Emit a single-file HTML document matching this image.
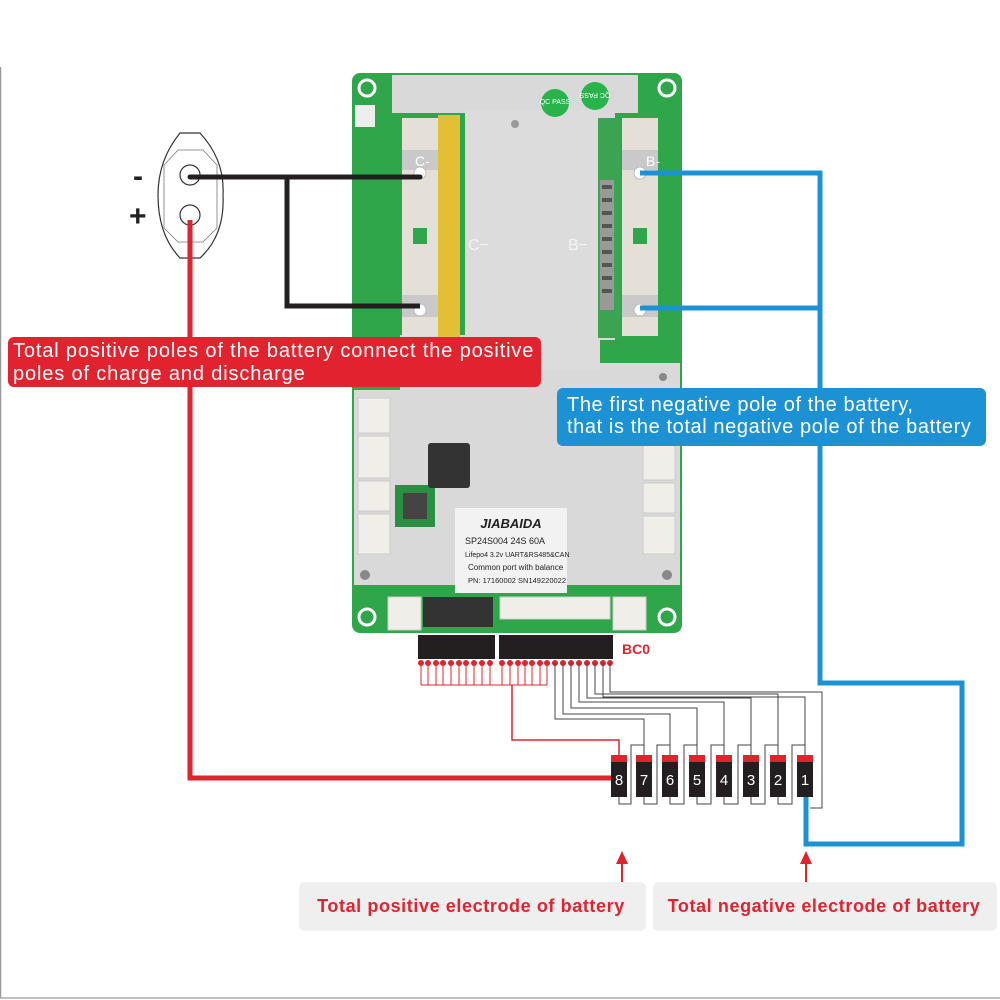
<!DOCTYPE html>
<html><head><meta charset="utf-8"><style>
html,body{margin:0;padding:0;background:#fff;width:1000px;height:1000px;overflow:hidden}
svg{display:block}
text{font-family:"Liberation Sans",sans-serif}
</style></head><body>
<svg width="1000" height="1000" viewBox="0 0 1000 1000" xmlns="http://www.w3.org/2000/svg">
<rect x="0" y="0" width="1000" height="1000" fill="#fff"/>
<line x1="0.5" y1="67" x2="0.5" y2="998" stroke="#999" stroke-width="1.5"/>
<line x1="0" y1="998" x2="1000" y2="998" stroke="#aaa" stroke-width="1.5"/>

<rect x="352" y="73" width="330" height="560" rx="8" fill="#2fa64a"/>
<circle cx="367" cy="88" r="8" fill="none" stroke="#fff" stroke-width="3"/>
<circle cx="667" cy="88" r="8" fill="none" stroke="#fff" stroke-width="3"/>
<circle cx="367" cy="617" r="8" fill="none" stroke="#fff" stroke-width="3"/>
<circle cx="667" cy="617" r="8" fill="none" stroke="#fff" stroke-width="3"/>
<rect x="355" y="105" width="20" height="22" fill="#eee"/>
<path d="M392 75 H638 V113 H615 V340 H598 V363 H680 V585 H354 V390 H400 V335 H465 V113 H392 Z" fill="#d9d9d9"/>
<rect x="465" y="110" width="135" height="260" fill="#dcdcdc"/>
<circle cx="555" cy="103" r="14" fill="#28b34b"/>
<circle cx="595" cy="96" r="14" fill="#28b34b"/>
<text x="555" y="104" font-size="7" fill="#fff" text-anchor="middle">QC PASS</text>
<text x="595" y="97" font-size="7" fill="#fff" text-anchor="middle" transform="rotate(180 595 95)">QC PASS</text>
<circle cx="515" cy="124" r="4" fill="#999"/>
<rect x="402" y="118" width="36" height="218" fill="#e4e0d8"/>
<rect x="402" y="150" width="36" height="20" fill="#c9c9c9"/>
<rect x="402" y="295" width="36" height="22" fill="#c9c9c9"/>
<rect x="413" y="228" width="14" height="16" fill="#2fa64a"/>
<rect x="438" y="115" width="22" height="222" fill="#e2bf35"/>
<text x="415" y="166" font-size="14" fill="#fff">C-</text>
<text x="468" y="250" font-size="16" fill="#f4f4f4">C−</text>
<text x="568" y="250" font-size="16" fill="#f4f4f4">B−</text>
<rect x="598" y="118" width="22" height="220" fill="#3ba453"/>
<rect x="600" y="180" width="14" height="130" fill="#999"/>
<g fill="#555"><rect x="602" y="185" width="10" height="4"/><rect x="602" y="198" width="10" height="4"/><rect x="602" y="211" width="10" height="4"/><rect x="602" y="224" width="10" height="4"/><rect x="602" y="237" width="10" height="4"/><rect x="602" y="250" width="10" height="4"/><rect x="602" y="263" width="10" height="4"/><rect x="602" y="276" width="10" height="4"/><rect x="602" y="289" width="10" height="4"/></g>
<rect x="622" y="118" width="36" height="218" fill="#e4e0d8"/>
<rect x="622" y="150" width="36" height="20" fill="#c9c9c9"/>
<rect x="622" y="295" width="36" height="22" fill="#c9c9c9"/>
<rect x="633" y="228" width="14" height="16" fill="#2fa64a"/>
<text x="646" y="166" font-size="14" fill="#fff">B-</text>
<circle cx="420" cy="173" r="6" fill="#fff" stroke="#bbb"/>
<circle cx="420" cy="310" r="6" fill="#fff" stroke="#bbb"/>
<circle cx="640" cy="173" r="6" fill="#fff" stroke="#bbb"/>
<circle cx="640" cy="310" r="6" fill="#fff" stroke="#bbb"/>
<g fill="#f0eee8" stroke="#ccc">
<rect x="358" y="398" width="32" height="35"/><rect x="358" y="436" width="32" height="42"/><rect x="358" y="481" width="32" height="30"/><rect x="358" y="514" width="32" height="40"/>
<rect x="643" y="445" width="32" height="35"/><rect x="643" y="483" width="32" height="30"/><rect x="643" y="516" width="32" height="38"/>
</g>
<rect x="395" y="485" width="40" height="42" fill="#2a8f40"/>
<rect x="403" y="493" width="24" height="26" fill="#444"/>
<rect x="428" y="443" width="42" height="45" rx="3" fill="#333"/>
<rect x="455" y="508" width="112" height="85" fill="#f2f2f2"/>
<text x="511" y="528" font-size="13" font-weight="bold" font-style="italic" fill="#222" text-anchor="middle">JIABAIDA</text>
<text x="465" y="544" font-size="9" fill="#222">SP24S004  24S  60A</text>
<text x="465" y="557" font-size="7" fill="#222">Lifepo4 3.2v UART&amp;RS485&amp;CAN</text>
<text x="468" y="570" font-size="8" fill="#222">Common port with balance</text>
<text x="468" y="583" font-size="7.5" fill="#222">PN: 17160002 SN149220022</text>
<circle cx="365" cy="575" r="5" fill="#888"/><circle cx="667" cy="575" r="5" fill="#888"/>
<circle cx="663" cy="377" r="4" fill="#888"/>
<rect x="388" y="597" width="33" height="33" fill="#f0eee8" stroke="#ccc"/>
<rect x="423" y="597" width="70" height="30" fill="#333"/>
<rect x="500" y="597" width="110" height="22" fill="#f0eee8" stroke="#ccc"/>
<rect x="613" y="597" width="33" height="33" fill="#f0eee8" stroke="#ccc"/>

<path d="M180 133 H200 Q225 160 223 195 Q225 235 200 258 H180 Q158 235 158 195 Q158 160 180 133 Z" fill="#fff" stroke="#333" stroke-width="1.2"/>
<path d="M178 150 H203 L217 165 V228 L203 242 H178 L164 228 V165 Z" fill="none" stroke="#777" stroke-width="0.8"/>
<circle cx="190" cy="175" r="10" fill="#fff" stroke="#333" stroke-width="1.2"/>
<circle cx="190" cy="215" r="10" fill="#fff" stroke="#333" stroke-width="1.2"/>
<text x="133" y="186" font-size="30" font-weight="bold" fill="#222">-</text>
<text x="129" y="226" font-size="30" font-weight="bold" fill="#222">+</text>

<polyline points="190,177 420,177" fill="none" stroke="#231f20" stroke-width="5" stroke-linecap="round"/>
<polyline points="287,177 287,306 420,306" fill="none" stroke="#231f20" stroke-width="5"/>
<polyline points="640,173 820,173 820,683 962,683 962,844 806,844 806,790" fill="none" stroke="#1c91d4" stroke-width="5"/>
<polyline points="640,308 820,308" fill="none" stroke="#1c91d4" stroke-width="5"/>
<polyline points="190,220 190,778 612,778" fill="none" stroke="#e0232e" stroke-width="5"/>

<rect x="8" y="337" width="533" height="50" rx="6" fill="#e0232e"/>
<text x="13" y="357" font-size="20" letter-spacing="0.85" fill="#fff">Total positive poles of the battery connect the positive</text>
<text x="13" y="380" font-size="20" letter-spacing="0.85" fill="#fff">poles of charge and discharge</text>
<rect x="557" y="388" width="429" height="58" rx="6" fill="#1c91d4"/>
<text x="567" y="411" font-size="20" letter-spacing="0.6" fill="#fff">The first negative pole of the battery,</text>
<text x="567" y="433" font-size="20" letter-spacing="0.6" fill="#fff">that is the total negative pole of the battery</text>

<rect x="418" y="635" width="77" height="24" fill="#231f20"/>
<rect x="499" y="635" width="114" height="24" fill="#231f20"/>
<text x="622" y="654" font-size="14" font-weight="bold" fill="#e0232e">BC0</text>
<g fill="#e0232e">
<circle cx="421" cy="663" r="3"/><circle cx="428" cy="663" r="3"/><circle cx="436" cy="663" r="3"/><circle cx="443" cy="663" r="3"/><circle cx="451" cy="663" r="3"/><circle cx="459" cy="663" r="3"/><circle cx="466" cy="663" r="3"/><circle cx="474" cy="663" r="3"/><circle cx="482" cy="663" r="3"/><circle cx="490" cy="663" r="3"/>
<circle cx="502" cy="663" r="3"/><circle cx="510" cy="663" r="3"/><circle cx="518" cy="663" r="3"/><circle cx="525" cy="663" r="3"/><circle cx="532" cy="663" r="3"/><circle cx="540" cy="663" r="3"/><circle cx="547" cy="663" r="3"/>
<circle cx="555" cy="663" r="3"/><circle cx="563" cy="663" r="3"/><circle cx="571" cy="663" r="3"/><circle cx="579" cy="663" r="3"/><circle cx="587" cy="663" r="3"/><circle cx="595" cy="663" r="3"/><circle cx="603" cy="663" r="3"/><circle cx="610" cy="663" r="3"/>
</g>
<g stroke="#e0232e" stroke-width="1" fill="none">
<path d="M421 663V685M428 663V685M436 663V685M443 663V685M451 663V685M459 663V685M466 663V685M474 663V685M482 663V685M490 663V685M502 663V685M510 663V685M518 663V685M525 663V685M532 663V685M540 663V685M547 663V685M421 685H547"/>
<polyline points="512,685 512,740 619,740 619,755" stroke-width="1.5"/>
</g>
<g stroke="#444" stroke-width="1" fill="none">
<polyline points="555,663 555,719 644,719 644,755"/>
<polyline points="563,663 563,714 670,714 670,755"/>
<polyline points="571,663 571,708 697,708 697,755"/>
<polyline points="579,663 579,702 724,702 724,755"/>
<polyline points="587,663 587,698 751,698 751,755"/>
<polyline points="595,663 595,694 778,694 778,755"/>
<polyline points="603,663 603,697 805,697 805,755" />
<polyline points="610,663 610,692 822,692 822,808 810,808"/>
<polyline points="619,797 619,804 631,804 631,745 644,745 644,755"/>
<polyline points="644,797 644,804 657,804 657,745 670,745 670,755"/>
<polyline points="670,797 670,804 684,804 684,745 697,745 697,755"/>
<polyline points="697,797 697,804 711,804 711,745 724,745 724,755"/>
<polyline points="724,797 724,804 738,804 738,745 751,745 751,755"/>
<polyline points="751,797 751,804 765,804 765,745 778,745 778,755"/>
<polyline points="778,797 778,804 792,804 792,745 805,745 805,755"/>
</g>
<g font-size="15" fill="#fff" text-anchor="middle">
<rect x="611" y="755" width="16" height="8" fill="#e0232e"/><rect x="611" y="762" width="16" height="35" fill="#231f20"/><text x="619" y="785">8</text>
<rect x="636" y="755" width="16" height="8" fill="#e0232e"/><rect x="636" y="762" width="16" height="35" fill="#231f20"/><text x="644" y="785">7</text>
<rect x="662" y="755" width="16" height="8" fill="#e0232e"/><rect x="662" y="762" width="16" height="35" fill="#231f20"/><text x="670" y="785">6</text>
<rect x="689" y="755" width="16" height="8" fill="#e0232e"/><rect x="689" y="762" width="16" height="35" fill="#231f20"/><text x="697" y="785">5</text>
<rect x="716" y="755" width="16" height="8" fill="#e0232e"/><rect x="716" y="762" width="16" height="35" fill="#231f20"/><text x="724" y="785">4</text>
<rect x="743" y="755" width="16" height="8" fill="#e0232e"/><rect x="743" y="762" width="16" height="35" fill="#231f20"/><text x="751" y="785">3</text>
<rect x="770" y="755" width="16" height="8" fill="#e0232e"/><rect x="770" y="762" width="16" height="35" fill="#231f20"/><text x="778" y="785">2</text>
<rect x="797" y="755" width="16" height="8" fill="#e0232e"/><rect x="797" y="762" width="16" height="35" fill="#231f20"/><text x="805" y="785">1</text>
</g>

<line x1="622" y1="882" x2="622" y2="862" stroke="#e0232e" stroke-width="2"/>
<polygon points="622,851 616,864 628,864" fill="#e0232e"/>
<line x1="806" y1="882" x2="806" y2="862" stroke="#e0232e" stroke-width="2"/>
<polygon points="806,851 800,864 812,864" fill="#e0232e"/>
<rect x="299" y="882" width="347" height="49" rx="6" fill="#efefef"/>
<rect x="653" y="882" width="344" height="49" rx="6" fill="#efefef"/>
<text x="471" y="912" font-size="18" letter-spacing="0.6" font-weight="bold" fill="#e0232e" text-anchor="middle">Total positive electrode of battery</text>
<text x="824" y="912" font-size="18" letter-spacing="0.6" font-weight="bold" fill="#e0232e" text-anchor="middle">Total negative electrode of battery</text>
</svg>
</body></html>
